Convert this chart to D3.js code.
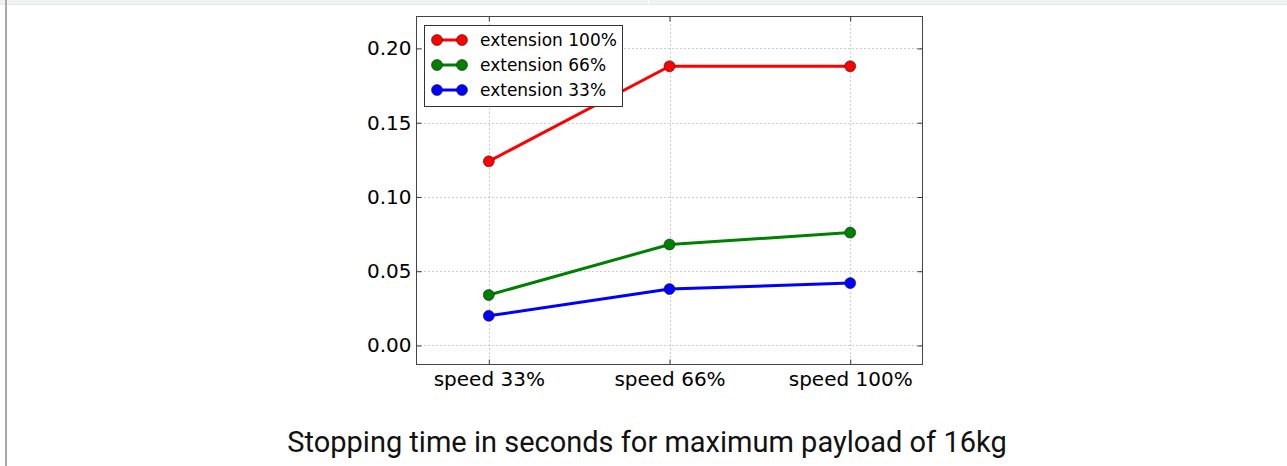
<!DOCTYPE html>
<html>
<head>
<meta charset="utf-8">
<script src="https://cdn.jsdelivr.net/npm/d3@7"></script>
<style>
  html, body { margin: 0; padding: 0; background: #fff; }
  svg { display: block; }
</style>
</head>
<body>
<svg id="chart" width="1287" height="466"></svg>
<script>
const categories = ["speed 33%", "speed 66%", "speed 100%"];
const seriesNames = ["extension 100%", "extension 66%", "extension 33%"];
const seriesColors = ["#ff0000", "#008000", "#0000ff"];
const ext100 = [0.124, 0.188, 0.188];
const ext66 = [0.034, 0.068, 0.076];
const ext33 = [0.020, 0.038, 0.042];
const yTicks = [0.00, 0.05, 0.10, 0.15, 0.20];
const caption = "Stopping time in seconds for maximum payload of 16kg";

const series = [ext100, ext66, ext33];

const svg = d3.select("#chart");

// page frame
svg.append("rect").attr("x", 0).attr("y", 0).attr("width", 1287).attr("height", 4).attr("fill", "#f1f2f2");
svg.append("line").attr("x1", 0).attr("x2", 1287).attr("y1", 4.5).attr("y2", 4.5).attr("stroke", "#e6eaea").attr("stroke-width", 1);
svg.append("line").attr("x1", 648.5).attr("x2", 648.5).attr("y1", 0).attr("y2", 4).attr("stroke", "#ffffff").attr("stroke-width", 1);
svg.append("rect").attr("x", 5).attr("y", 0).attr("width", 2).attr("height", 466).attr("fill", "#a8a8a8");

const L = 416.5, R = 922.5, T = 16.5, B = 364.5;

const x = d3.scaleLinear().domain([-0.4, 2.4]).range([L, R]);
const y = d3.scaleLinear().domain([-0.0128, 0.2215]).range([B, T]);

const g = svg.append("g");

// grid
g.selectAll(".gy").data(yTicks).enter().append("line")
  .attr("x1", L).attr("x2", R)
  .attr("y1", d => Math.round(y(d)) + 0.5).attr("y2", d => Math.round(y(d)) + 0.5)
  .attr("stroke", "#9a9a9a").attr("stroke-width", 1).attr("stroke-dasharray", "1,3");
g.selectAll(".gx").data(categories).enter().append("line")
  .attr("x1", (d, i) => Math.round(x(i)) + 0.5).attr("x2", (d, i) => Math.round(x(i)) + 0.5)
  .attr("y1", T).attr("y2", B)
  .attr("stroke", "#9a9a9a").attr("stroke-width", 1).attr("stroke-dasharray", "1,3");

// axes with inner ticks
const yAxisL = d3.axisLeft(y).tickValues(yTicks).tickFormat(d3.format(".2f")).tickSizeInner(-5).tickSizeOuter(0).tickPadding(5);
const yAxisR = d3.axisRight(y).tickValues(yTicks).tickFormat("").tickSizeInner(-5).tickSizeOuter(0);
const xAxisB = d3.axisBottom(x).tickValues([0, 1, 2]).tickFormat(i => categories[i]).tickSizeInner(-5).tickSizeOuter(0).tickPadding(7);
const xAxisT = d3.axisTop(x).tickValues([0, 1, 2]).tickFormat("").tickSizeInner(-5).tickSizeOuter(0);

function styleAxis(sel) {
  sel.select(".domain").remove();
  sel.selectAll(".tick line").attr("stroke", "#333").attr("stroke-width", 1);
  sel.selectAll("text").attr("fill", "#000").style("font-family", "'DejaVu Sans', sans-serif").style("font-size", "20px");
}
g.append("g").attr("transform", `translate(${L},0)`).call(yAxisL).call(styleAxis);
g.append("g").attr("transform", `translate(${R},0)`).call(yAxisR).call(styleAxis);
g.append("g").attr("transform", `translate(0,${B})`).call(xAxisB).call(styleAxis);
g.append("g").attr("transform", `translate(0,${T})`).call(xAxisT).call(styleAxis);

// frame
g.append("rect").attr("x", L).attr("y", T).attr("width", R - L).attr("height", B - T)
  .attr("fill", "none").attr("stroke", "#444").attr("stroke-width", 1);

// lines and markers
const line = d3.line().x((d, i) => x(i)).y(d => y(d));
series.forEach((s, k) => {
  g.append("path").datum(s).attr("d", line).attr("fill", "none")
    .attr("stroke", seriesColors[k]).attr("stroke-width", 3).attr("stroke-linejoin", "round");
  g.selectAll(null).data(s).enter().append("circle")
    .attr("cx", (d, i) => x(i)).attr("cy", d => y(d)).attr("r", 5.5)
    .attr("fill", seriesColors[k]).attr("stroke", "#222").attr("stroke-width", 0.6);
});

// legend
const lg = g.append("g");
lg.append("rect").attr("x", 424.5).attr("y", 25.5).attr("width", 198).attr("height", 81)
  .attr("fill", "#fff").attr("stroke", "#333").attr("stroke-width", 1);
seriesNames.forEach((name, k) => {
  const yy = 40 + k * 25;
  lg.append("line").attr("x1", 437).attr("x2", 462).attr("y1", yy).attr("y2", yy)
    .attr("stroke", seriesColors[k]).attr("stroke-width", 3);
  [437, 462].forEach(cx => lg.append("circle").attr("cx", cx).attr("cy", yy).attr("r", 5.5)
    .attr("fill", seriesColors[k]).attr("stroke", "#222").attr("stroke-width", 0.6));
  lg.append("text").attr("x", 480).attr("y", yy + 6).text(name)
    .style("font-family", "'DejaVu Sans', sans-serif").style("font-size", "17px").attr("fill", "#000");
});

// caption
svg.append("text").attr("x", 647).attr("y", 452).attr("text-anchor", "middle")
  .style("font-family", "Roboto, sans-serif").style("font-size", "29px").attr("fill", "#111")
  .text(caption);
</script>
</body>
</html>
